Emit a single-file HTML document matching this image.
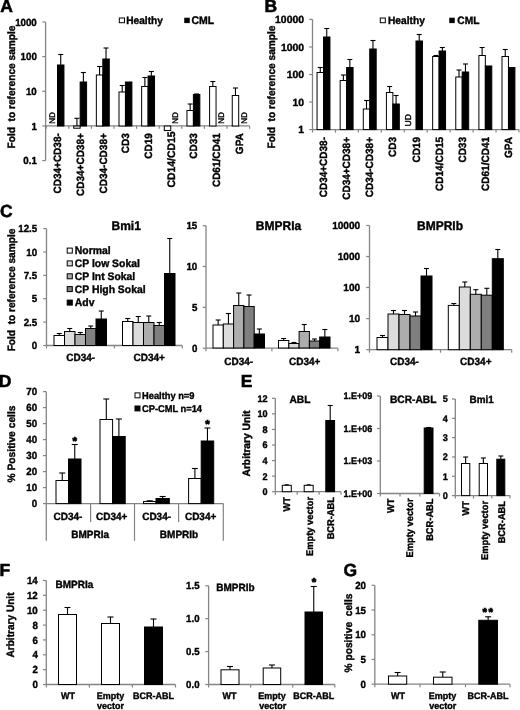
<!DOCTYPE html>
<html><head><meta charset="utf-8"><title>Figure</title>
<style>
html,body{margin:0;padding:0;background:#fff;}
svg{display:block;font-family:"Liberation Sans",sans-serif;fill:#000;text-rendering:geometricPrecision;}
</style></head><body>
<svg width="520" height="710" viewBox="0 0 520 710">
<rect x="0" y="0" width="520" height="710" fill="#fff" stroke="none"/>
<text x="0.30" y="12.30" font-size="17.5" text-anchor="start" font-weight="bold" stroke="#000" stroke-width="0.38" style="stroke-width:0.55">A</text>
<line x1="45.60" y1="22.00" x2="45.60" y2="160.60" stroke="#848484" stroke-width="1.3"/>
<line x1="42.30" y1="22.00" x2="45.60" y2="22.00" stroke="#848484" stroke-width="1.2"/>
<text x="0" y="0" font-size="10.3" text-anchor="end" font-weight="bold" stroke="#000" stroke-width="0.38" transform="translate(36.80 25.61) scale(0.945 1)">1000</text>
<line x1="42.30" y1="56.60" x2="45.60" y2="56.60" stroke="#848484" stroke-width="1.2"/>
<text x="0" y="0" font-size="10.3" text-anchor="end" font-weight="bold" stroke="#000" stroke-width="0.38" transform="translate(36.80 60.20) scale(0.945 1)">100</text>
<line x1="42.30" y1="91.30" x2="45.60" y2="91.30" stroke="#848484" stroke-width="1.2"/>
<text x="0" y="0" font-size="10.3" text-anchor="end" font-weight="bold" stroke="#000" stroke-width="0.38" transform="translate(36.80 94.91) scale(0.945 1)">10</text>
<line x1="42.30" y1="126.00" x2="45.60" y2="126.00" stroke="#848484" stroke-width="1.2"/>
<text x="0" y="0" font-size="10.3" text-anchor="end" font-weight="bold" stroke="#000" stroke-width="0.38" transform="translate(36.80 129.60) scale(0.945 1)">1</text>
<line x1="42.30" y1="160.60" x2="45.60" y2="160.60" stroke="#848484" stroke-width="1.2"/>
<text x="0" y="0" font-size="10.3" text-anchor="end" font-weight="bold" stroke="#000" stroke-width="0.38" transform="translate(36.80 164.20) scale(0.945 1)">0.1</text>
<line x1="45.60" y1="125.80" x2="249.60" y2="125.80" stroke="#848484" stroke-width="1.3"/>
<line x1="46.20" y1="125.80" x2="46.20" y2="128.80" stroke="#848484" stroke-width="1.2"/>
<line x1="68.80" y1="125.80" x2="68.80" y2="128.80" stroke="#848484" stroke-width="1.2"/>
<line x1="91.40" y1="125.80" x2="91.40" y2="128.80" stroke="#848484" stroke-width="1.2"/>
<line x1="114.00" y1="125.80" x2="114.00" y2="128.80" stroke="#848484" stroke-width="1.2"/>
<line x1="136.60" y1="125.80" x2="136.60" y2="128.80" stroke="#848484" stroke-width="1.2"/>
<line x1="159.20" y1="125.80" x2="159.20" y2="128.80" stroke="#848484" stroke-width="1.2"/>
<line x1="181.80" y1="125.80" x2="181.80" y2="128.80" stroke="#848484" stroke-width="1.2"/>
<line x1="204.40" y1="125.80" x2="204.40" y2="128.80" stroke="#848484" stroke-width="1.2"/>
<line x1="227.00" y1="125.80" x2="227.00" y2="128.80" stroke="#848484" stroke-width="1.2"/>
<line x1="249.60" y1="125.80" x2="249.60" y2="128.80" stroke="#848484" stroke-width="1.2"/>
<text x="14.70" y="87.00" font-size="10.7" text-anchor="middle" font-weight="bold" stroke="#000" stroke-width="0.38" textLength="123" lengthAdjust="spacingAndGlyphs" transform="rotate(-90 14.70 87.00)">Fold&#160;&#160;to reference sample</text>
<text x="54.60" y="123.80" font-size="8.2" text-anchor="start" font-weight="normal" transform="rotate(-90 54.60 123.80)" stroke="#000" stroke-width="0.4">ND</text>
<line x1="60.73" y1="54.50" x2="60.73" y2="65.00" stroke="#000" stroke-width="1.1"/>
<line x1="58.23" y1="54.50" x2="63.23" y2="54.50" stroke="#000" stroke-width="1.1"/>
<rect x="57.50" y="65.00" width="6.45" height="61.00" fill="#000" stroke="#000" stroke-width="1.0"/>
<text x="0" y="0" font-size="10.5" text-anchor="end" font-weight="bold" stroke="#000" stroke-width="0.38" transform="translate(61.30 133.20) rotate(-90) scale(0.952 1)">CD34+CD38-</text>
<line x1="76.93" y1="118.30" x2="76.93" y2="126.00" stroke="#000" stroke-width="1.1"/>
<line x1="74.43" y1="118.30" x2="79.43" y2="118.30" stroke="#000" stroke-width="1.1"/>
<rect x="73.70" y="126.00" width="6.45" height="2.20" fill="#fff" stroke="#000" stroke-width="1.0"/>
<line x1="83.38" y1="72.50" x2="83.38" y2="82.00" stroke="#000" stroke-width="1.1"/>
<line x1="80.88" y1="72.50" x2="85.88" y2="72.50" stroke="#000" stroke-width="1.1"/>
<rect x="80.15" y="82.00" width="6.45" height="44.00" fill="#000" stroke="#000" stroke-width="1.0"/>
<text x="0" y="0" font-size="10.5" text-anchor="end" font-weight="bold" stroke="#000" stroke-width="0.38" transform="translate(83.95 133.20) rotate(-90) scale(0.952 1)">CD34+CD38+</text>
<line x1="99.57" y1="66.50" x2="99.57" y2="75.00" stroke="#000" stroke-width="1.1"/>
<line x1="97.07" y1="66.50" x2="102.07" y2="66.50" stroke="#000" stroke-width="1.1"/>
<rect x="96.35" y="75.00" width="6.45" height="51.00" fill="#fff" stroke="#000" stroke-width="1.0"/>
<line x1="106.03" y1="48.00" x2="106.03" y2="59.00" stroke="#000" stroke-width="1.1"/>
<line x1="103.53" y1="48.00" x2="108.53" y2="48.00" stroke="#000" stroke-width="1.1"/>
<rect x="102.80" y="59.00" width="6.45" height="67.00" fill="#000" stroke="#000" stroke-width="1.0"/>
<text x="0" y="0" font-size="10.5" text-anchor="end" font-weight="bold" stroke="#000" stroke-width="0.38" transform="translate(106.60 133.20) rotate(-90) scale(0.952 1)">CD34-CD38+</text>
<line x1="122.22" y1="85.50" x2="122.22" y2="92.00" stroke="#000" stroke-width="1.1"/>
<line x1="119.72" y1="85.50" x2="124.72" y2="85.50" stroke="#000" stroke-width="1.1"/>
<rect x="119.00" y="92.00" width="6.45" height="34.00" fill="#fff" stroke="#000" stroke-width="1.0"/>
<rect x="125.45" y="82.00" width="6.45" height="44.00" fill="#000" stroke="#000" stroke-width="1.0"/>
<text x="0" y="0" font-size="10.5" text-anchor="end" font-weight="bold" stroke="#000" stroke-width="0.38" transform="translate(129.25 133.20) rotate(-90) scale(0.952 1)">CD3</text>
<line x1="144.88" y1="77.50" x2="144.88" y2="86.50" stroke="#000" stroke-width="1.1"/>
<line x1="142.38" y1="77.50" x2="147.38" y2="77.50" stroke="#000" stroke-width="1.1"/>
<rect x="141.65" y="86.50" width="6.45" height="39.50" fill="#fff" stroke="#000" stroke-width="1.0"/>
<line x1="151.32" y1="71.50" x2="151.32" y2="76.00" stroke="#000" stroke-width="1.1"/>
<line x1="148.82" y1="71.50" x2="153.82" y2="71.50" stroke="#000" stroke-width="1.1"/>
<rect x="148.10" y="76.00" width="6.45" height="50.00" fill="#000" stroke="#000" stroke-width="1.0"/>
<text x="0" y="0" font-size="10.5" text-anchor="end" font-weight="bold" stroke="#000" stroke-width="0.38" transform="translate(151.90 133.20) rotate(-90) scale(0.952 1)">CD19</text>
<rect x="164.30" y="126.00" width="6.45" height="4.50" fill="#fff" stroke="#000" stroke-width="1.0"/>
<text x="177.95" y="123.80" font-size="8.2" text-anchor="start" font-weight="normal" transform="rotate(-90 177.95 123.80)" stroke="#000" stroke-width="0.4">ND</text>
<text x="0" y="0" font-size="10.92" text-anchor="end" font-weight="bold" stroke="#000" stroke-width="0.38" transform="translate(174.55 131.50) rotate(-90) scale(0.952 1)">CD14/CD15</text>
<line x1="190.17" y1="104.00" x2="190.17" y2="110.50" stroke="#000" stroke-width="1.1"/>
<line x1="187.67" y1="104.00" x2="192.67" y2="104.00" stroke="#000" stroke-width="1.1"/>
<rect x="186.95" y="110.50" width="6.45" height="15.50" fill="#fff" stroke="#000" stroke-width="1.0"/>
<line x1="196.62" y1="94.00" x2="196.62" y2="94.50" stroke="#000" stroke-width="1.1"/>
<line x1="194.12" y1="94.00" x2="199.12" y2="94.00" stroke="#000" stroke-width="1.1"/>
<rect x="193.40" y="94.50" width="6.45" height="31.50" fill="#000" stroke="#000" stroke-width="1.0"/>
<text x="0" y="0" font-size="10.5" text-anchor="end" font-weight="bold" stroke="#000" stroke-width="0.38" transform="translate(197.20 133.20) rotate(-90) scale(0.952 1)">CD33</text>
<line x1="212.82" y1="81.50" x2="212.82" y2="86.50" stroke="#000" stroke-width="1.1"/>
<line x1="210.32" y1="81.50" x2="215.32" y2="81.50" stroke="#000" stroke-width="1.1"/>
<rect x="209.60" y="86.50" width="6.45" height="39.50" fill="#fff" stroke="#000" stroke-width="1.0"/>
<text x="224.45" y="123.80" font-size="8.2" text-anchor="start" font-weight="normal" transform="rotate(-90 224.45 123.80)" stroke="#000" stroke-width="0.4">ND</text>
<text x="0" y="0" font-size="10.5" text-anchor="end" font-weight="bold" stroke="#000" stroke-width="0.38" transform="translate(219.85 133.20) rotate(-90) scale(0.952 1)">CD61/CD41</text>
<line x1="235.47" y1="88.00" x2="235.47" y2="95.50" stroke="#000" stroke-width="1.1"/>
<line x1="232.97" y1="88.00" x2="237.97" y2="88.00" stroke="#000" stroke-width="1.1"/>
<rect x="232.25" y="95.50" width="6.45" height="30.50" fill="#fff" stroke="#000" stroke-width="1.0"/>
<text x="247.10" y="123.80" font-size="8.2" text-anchor="start" font-weight="normal" transform="rotate(-90 247.10 123.80)" stroke="#000" stroke-width="0.4">ND</text>
<text x="0" y="0" font-size="10.5" text-anchor="end" font-weight="bold" stroke="#000" stroke-width="0.38" transform="translate(242.50 133.20) rotate(-90) scale(0.952 1)">GPA</text>
<rect x="119.30" y="18.00" width="5.20" height="4.70" fill="#fff" stroke="#000" stroke-width="1.0"/>
<text x="0" y="0" font-size="10.61" text-anchor="start" font-weight="bold" stroke="#000" stroke-width="0.38" transform="translate(126.30 24.00) scale(0.952 1)">Healthy</text>
<rect x="184.80" y="18.20" width="4.40" height="4.40" fill="#000" stroke="#000" stroke-width="1.0"/>
<text x="0" y="0" font-size="11.03" text-anchor="start" font-weight="bold" stroke="#000" stroke-width="0.38" transform="translate(191.50 24.00) scale(0.952 1)">CML</text>
<text x="264.50" y="12.30" font-size="17.5" text-anchor="start" font-weight="bold" stroke="#000" stroke-width="0.38" style="stroke-width:0.55">B</text>
<line x1="312.50" y1="19.40" x2="312.50" y2="129.60" stroke="#848484" stroke-width="1.3"/>
<line x1="309.20" y1="19.40" x2="312.50" y2="19.40" stroke="#848484" stroke-width="1.2"/>
<text x="0" y="0" font-size="10.4" text-anchor="end" font-weight="bold" stroke="#000" stroke-width="0.38" transform="translate(304.00 23.04) scale(1 1)">10000</text>
<line x1="309.20" y1="46.95" x2="312.50" y2="46.95" stroke="#848484" stroke-width="1.2"/>
<text x="0" y="0" font-size="10.4" text-anchor="end" font-weight="bold" stroke="#000" stroke-width="0.38" transform="translate(304.00 50.59) scale(1 1)">1000</text>
<line x1="309.20" y1="74.50" x2="312.50" y2="74.50" stroke="#848484" stroke-width="1.2"/>
<text x="0" y="0" font-size="10.4" text-anchor="end" font-weight="bold" stroke="#000" stroke-width="0.38" transform="translate(304.00 78.14) scale(1 1)">100</text>
<line x1="309.20" y1="102.05" x2="312.50" y2="102.05" stroke="#848484" stroke-width="1.2"/>
<text x="0" y="0" font-size="10.4" text-anchor="end" font-weight="bold" stroke="#000" stroke-width="0.38" transform="translate(304.00 105.69) scale(1 1)">10</text>
<line x1="309.20" y1="129.60" x2="312.50" y2="129.60" stroke="#848484" stroke-width="1.2"/>
<text x="0" y="0" font-size="10.4" text-anchor="end" font-weight="bold" stroke="#000" stroke-width="0.38" transform="translate(304.00 133.24) scale(1 1)">1</text>
<line x1="312.50" y1="129.60" x2="519.00" y2="129.60" stroke="#848484" stroke-width="1.3"/>
<line x1="312.50" y1="129.60" x2="312.50" y2="132.60" stroke="#848484" stroke-width="1.2"/>
<line x1="335.44" y1="129.60" x2="335.44" y2="132.60" stroke="#848484" stroke-width="1.2"/>
<line x1="358.38" y1="129.60" x2="358.38" y2="132.60" stroke="#848484" stroke-width="1.2"/>
<line x1="381.32" y1="129.60" x2="381.32" y2="132.60" stroke="#848484" stroke-width="1.2"/>
<line x1="404.26" y1="129.60" x2="404.26" y2="132.60" stroke="#848484" stroke-width="1.2"/>
<line x1="427.20" y1="129.60" x2="427.20" y2="132.60" stroke="#848484" stroke-width="1.2"/>
<line x1="450.14" y1="129.60" x2="450.14" y2="132.60" stroke="#848484" stroke-width="1.2"/>
<line x1="473.08" y1="129.60" x2="473.08" y2="132.60" stroke="#848484" stroke-width="1.2"/>
<line x1="496.02" y1="129.60" x2="496.02" y2="132.60" stroke="#848484" stroke-width="1.2"/>
<line x1="518.96" y1="129.60" x2="518.96" y2="132.60" stroke="#848484" stroke-width="1.2"/>
<text x="275.00" y="87.00" font-size="10.7" text-anchor="middle" font-weight="bold" stroke="#000" stroke-width="0.38" textLength="123" lengthAdjust="spacingAndGlyphs" transform="rotate(-90 275.00 87.00)">Fold&#160;&#160;to reference sample</text>
<line x1="320.27" y1="67.50" x2="320.27" y2="72.50" stroke="#000" stroke-width="1.1"/>
<line x1="317.77" y1="67.50" x2="322.77" y2="67.50" stroke="#000" stroke-width="1.1"/>
<rect x="317.05" y="72.50" width="6.45" height="57.10" fill="#fff" stroke="#000" stroke-width="1.0"/>
<line x1="326.73" y1="28.50" x2="326.73" y2="37.00" stroke="#000" stroke-width="1.1"/>
<line x1="324.23" y1="28.50" x2="329.23" y2="28.50" stroke="#000" stroke-width="1.1"/>
<rect x="323.50" y="37.00" width="6.45" height="92.60" fill="#000" stroke="#000" stroke-width="1.0"/>
<text x="0" y="0" font-size="10.5" text-anchor="end" font-weight="bold" stroke="#000" stroke-width="0.38" transform="translate(327.10 137.00) rotate(-90) scale(0.952 1)">CD34+CD38-</text>
<line x1="343.39" y1="75.00" x2="343.39" y2="80.50" stroke="#000" stroke-width="1.1"/>
<line x1="340.89" y1="75.00" x2="345.89" y2="75.00" stroke="#000" stroke-width="1.1"/>
<rect x="340.17" y="80.50" width="6.45" height="49.10" fill="#fff" stroke="#000" stroke-width="1.0"/>
<line x1="349.85" y1="59.50" x2="349.85" y2="67.50" stroke="#000" stroke-width="1.1"/>
<line x1="347.35" y1="59.50" x2="352.35" y2="59.50" stroke="#000" stroke-width="1.1"/>
<rect x="346.62" y="67.50" width="6.45" height="62.10" fill="#000" stroke="#000" stroke-width="1.0"/>
<text x="0" y="0" font-size="10.5" text-anchor="end" font-weight="bold" stroke="#000" stroke-width="0.38" transform="translate(350.22 137.00) rotate(-90) scale(0.952 1)">CD34+CD38+</text>
<line x1="366.51" y1="100.50" x2="366.51" y2="109.00" stroke="#000" stroke-width="1.1"/>
<line x1="364.01" y1="100.50" x2="369.01" y2="100.50" stroke="#000" stroke-width="1.1"/>
<rect x="363.29" y="109.00" width="6.45" height="20.60" fill="#fff" stroke="#000" stroke-width="1.0"/>
<line x1="372.97" y1="40.50" x2="372.97" y2="49.00" stroke="#000" stroke-width="1.1"/>
<line x1="370.47" y1="40.50" x2="375.47" y2="40.50" stroke="#000" stroke-width="1.1"/>
<rect x="369.74" y="49.00" width="6.45" height="80.60" fill="#000" stroke="#000" stroke-width="1.0"/>
<text x="0" y="0" font-size="10.5" text-anchor="end" font-weight="bold" stroke="#000" stroke-width="0.38" transform="translate(373.34 137.00) rotate(-90) scale(0.952 1)">CD34-CD38+</text>
<line x1="389.63" y1="86.50" x2="389.63" y2="92.50" stroke="#000" stroke-width="1.1"/>
<line x1="387.13" y1="86.50" x2="392.13" y2="86.50" stroke="#000" stroke-width="1.1"/>
<rect x="386.41" y="92.50" width="6.45" height="37.10" fill="#fff" stroke="#000" stroke-width="1.0"/>
<line x1="396.09" y1="95.50" x2="396.09" y2="104.00" stroke="#000" stroke-width="1.1"/>
<line x1="393.59" y1="95.50" x2="398.59" y2="95.50" stroke="#000" stroke-width="1.1"/>
<rect x="392.86" y="104.00" width="6.45" height="25.60" fill="#000" stroke="#000" stroke-width="1.0"/>
<text x="0" y="0" font-size="10.5" text-anchor="end" font-weight="bold" stroke="#000" stroke-width="0.38" transform="translate(396.46 137.00) rotate(-90) scale(0.952 1)">CD3</text>
<text x="410.98" y="126.50" font-size="8.6" text-anchor="start" font-weight="normal" transform="rotate(-90 410.98 126.50)" stroke="#000" stroke-width="0.4">UD</text>
<line x1="419.21" y1="34.50" x2="419.21" y2="41.00" stroke="#000" stroke-width="1.1"/>
<line x1="416.71" y1="34.50" x2="421.71" y2="34.50" stroke="#000" stroke-width="1.1"/>
<rect x="415.98" y="41.00" width="6.45" height="88.60" fill="#000" stroke="#000" stroke-width="1.0"/>
<text x="0" y="0" font-size="10.5" text-anchor="end" font-weight="bold" stroke="#000" stroke-width="0.38" transform="translate(419.58 137.00) rotate(-90) scale(0.952 1)">CD19</text>
<line x1="435.88" y1="55.50" x2="435.88" y2="56.50" stroke="#000" stroke-width="1.1"/>
<line x1="433.38" y1="55.50" x2="438.38" y2="55.50" stroke="#000" stroke-width="1.1"/>
<rect x="432.65" y="56.50" width="6.45" height="73.10" fill="#fff" stroke="#000" stroke-width="1.0"/>
<line x1="442.33" y1="47.50" x2="442.33" y2="51.00" stroke="#000" stroke-width="1.1"/>
<line x1="439.83" y1="47.50" x2="444.83" y2="47.50" stroke="#000" stroke-width="1.1"/>
<rect x="439.10" y="51.00" width="6.45" height="78.60" fill="#000" stroke="#000" stroke-width="1.0"/>
<text x="0" y="0" font-size="10.5" text-anchor="end" font-weight="bold" stroke="#000" stroke-width="0.38" transform="translate(442.70 137.00) rotate(-90) scale(0.952 1)">CD14/CD15</text>
<line x1="459.00" y1="70.00" x2="459.00" y2="77.00" stroke="#000" stroke-width="1.1"/>
<line x1="456.50" y1="70.00" x2="461.50" y2="70.00" stroke="#000" stroke-width="1.1"/>
<rect x="455.77" y="77.00" width="6.45" height="52.60" fill="#fff" stroke="#000" stroke-width="1.0"/>
<line x1="465.45" y1="64.00" x2="465.45" y2="72.00" stroke="#000" stroke-width="1.1"/>
<line x1="462.95" y1="64.00" x2="467.95" y2="64.00" stroke="#000" stroke-width="1.1"/>
<rect x="462.22" y="72.00" width="6.45" height="57.60" fill="#000" stroke="#000" stroke-width="1.0"/>
<text x="0" y="0" font-size="10.5" text-anchor="end" font-weight="bold" stroke="#000" stroke-width="0.38" transform="translate(465.82 137.00) rotate(-90) scale(0.952 1)">CD33</text>
<line x1="482.12" y1="47.50" x2="482.12" y2="55.50" stroke="#000" stroke-width="1.1"/>
<line x1="479.62" y1="47.50" x2="484.62" y2="47.50" stroke="#000" stroke-width="1.1"/>
<rect x="478.89" y="55.50" width="6.45" height="74.10" fill="#fff" stroke="#000" stroke-width="1.0"/>
<rect x="485.34" y="66.00" width="6.45" height="63.60" fill="#000" stroke="#000" stroke-width="1.0"/>
<text x="0" y="0" font-size="10.5" text-anchor="end" font-weight="bold" stroke="#000" stroke-width="0.38" transform="translate(488.94 137.00) rotate(-90) scale(0.952 1)">CD61/CD41</text>
<line x1="505.24" y1="49.50" x2="505.24" y2="56.50" stroke="#000" stroke-width="1.1"/>
<line x1="502.74" y1="49.50" x2="507.74" y2="49.50" stroke="#000" stroke-width="1.1"/>
<rect x="502.01" y="56.50" width="6.45" height="73.10" fill="#fff" stroke="#000" stroke-width="1.0"/>
<rect x="508.46" y="67.50" width="6.45" height="62.10" fill="#000" stroke="#000" stroke-width="1.0"/>
<text x="0" y="0" font-size="10.5" text-anchor="end" font-weight="bold" stroke="#000" stroke-width="0.38" transform="translate(512.06 137.00) rotate(-90) scale(0.952 1)">GPA</text>
<rect x="380.30" y="18.00" width="5.00" height="4.70" fill="#fff" stroke="#000" stroke-width="1.0"/>
<text x="0" y="0" font-size="10.71" text-anchor="start" font-weight="bold" stroke="#000" stroke-width="0.38" transform="translate(388.00 24.00) scale(0.952 1)">Healthy</text>
<rect x="449.80" y="18.20" width="4.40" height="4.40" fill="#000" stroke="#000" stroke-width="1.0"/>
<text x="0" y="0" font-size="10.71" text-anchor="start" font-weight="bold" stroke="#000" stroke-width="0.38" transform="translate(457.30 24.00) scale(0.952 1)">CML</text>
<text x="0.00" y="217.00" font-size="17.5" text-anchor="start" font-weight="bold" stroke="#000" stroke-width="0.38" style="stroke-width:0.55">C</text>
<line x1="46.50" y1="228.60" x2="46.50" y2="345.50" stroke="#848484" stroke-width="1.3"/>
<line x1="43.20" y1="228.60" x2="46.50" y2="228.60" stroke="#848484" stroke-width="1.2"/>
<text x="0" y="0" font-size="10.3" text-anchor="end" font-weight="bold" stroke="#000" stroke-width="0.38" transform="translate(37.20 232.20) scale(0.945 1)">12.5</text>
<line x1="43.20" y1="252.00" x2="46.50" y2="252.00" stroke="#848484" stroke-width="1.2"/>
<text x="0" y="0" font-size="10.3" text-anchor="end" font-weight="bold" stroke="#000" stroke-width="0.38" transform="translate(37.20 255.60) scale(0.945 1)">10</text>
<line x1="43.20" y1="275.40" x2="46.50" y2="275.40" stroke="#848484" stroke-width="1.2"/>
<text x="0" y="0" font-size="10.3" text-anchor="end" font-weight="bold" stroke="#000" stroke-width="0.38" transform="translate(37.20 279.00) scale(0.945 1)">7.5</text>
<line x1="43.20" y1="298.70" x2="46.50" y2="298.70" stroke="#848484" stroke-width="1.2"/>
<text x="0" y="0" font-size="10.3" text-anchor="end" font-weight="bold" stroke="#000" stroke-width="0.38" transform="translate(37.20 302.31) scale(0.945 1)">5</text>
<line x1="43.20" y1="322.10" x2="46.50" y2="322.10" stroke="#848484" stroke-width="1.2"/>
<text x="0" y="0" font-size="10.3" text-anchor="end" font-weight="bold" stroke="#000" stroke-width="0.38" transform="translate(37.20 325.71) scale(0.945 1)">2.5</text>
<line x1="43.20" y1="345.50" x2="46.50" y2="345.50" stroke="#848484" stroke-width="1.2"/>
<text x="0" y="0" font-size="10.3" text-anchor="end" font-weight="bold" stroke="#000" stroke-width="0.38" transform="translate(37.20 349.11) scale(0.945 1)">0</text>
<line x1="46.50" y1="345.50" x2="182.30" y2="345.50" stroke="#848484" stroke-width="1.3"/>
<line x1="46.50" y1="345.50" x2="46.50" y2="348.50" stroke="#848484" stroke-width="1.2"/>
<line x1="114.40" y1="345.50" x2="114.40" y2="348.50" stroke="#848484" stroke-width="1.2"/>
<line x1="182.30" y1="345.50" x2="182.30" y2="348.50" stroke="#848484" stroke-width="1.2"/>
<text x="14.70" y="290.00" font-size="10.7" text-anchor="middle" font-weight="bold" stroke="#000" stroke-width="0.38" textLength="122.7" lengthAdjust="spacingAndGlyphs" transform="rotate(-90 14.70 290.00)">Fold&#160;&#160;to reference sample</text>
<text x="0" y="0" font-size="12.6" text-anchor="start" font-weight="bold" stroke="#000" stroke-width="0.38" transform="translate(111.50 230.30) scale(0.952 1)">Bmi1</text>
<line x1="59.25" y1="333.50" x2="59.25" y2="335.50" stroke="#000" stroke-width="1.1"/>
<line x1="56.75" y1="333.50" x2="61.75" y2="333.50" stroke="#000" stroke-width="1.1"/>
<rect x="54.00" y="335.50" width="10.50" height="10.00" fill="#fff" stroke="#000" stroke-width="1.0"/>
<line x1="69.75" y1="328.50" x2="69.75" y2="331.50" stroke="#000" stroke-width="1.1"/>
<line x1="67.25" y1="328.50" x2="72.25" y2="328.50" stroke="#000" stroke-width="1.1"/>
<rect x="64.50" y="331.50" width="10.50" height="14.00" fill="#dcdcdc" stroke="#000" stroke-width="1.0"/>
<line x1="80.25" y1="332.50" x2="80.25" y2="334.50" stroke="#000" stroke-width="1.1"/>
<line x1="77.75" y1="332.50" x2="82.75" y2="332.50" stroke="#000" stroke-width="1.1"/>
<rect x="75.00" y="334.50" width="10.50" height="11.00" fill="#adadad" stroke="#000" stroke-width="1.0"/>
<line x1="90.75" y1="326.00" x2="90.75" y2="328.50" stroke="#000" stroke-width="1.1"/>
<line x1="88.25" y1="326.00" x2="93.25" y2="326.00" stroke="#000" stroke-width="1.1"/>
<rect x="85.50" y="328.50" width="10.50" height="17.00" fill="#7f7f7f" stroke="#000" stroke-width="1.0"/>
<line x1="101.25" y1="311.00" x2="101.25" y2="319.00" stroke="#000" stroke-width="1.1"/>
<line x1="98.75" y1="311.00" x2="103.75" y2="311.00" stroke="#000" stroke-width="1.1"/>
<rect x="96.00" y="319.00" width="10.50" height="26.50" fill="#000" stroke="#000" stroke-width="1.0"/>
<line x1="127.75" y1="318.50" x2="127.75" y2="321.50" stroke="#000" stroke-width="1.1"/>
<line x1="125.25" y1="318.50" x2="130.25" y2="318.50" stroke="#000" stroke-width="1.1"/>
<rect x="122.50" y="321.50" width="10.50" height="24.00" fill="#fff" stroke="#000" stroke-width="1.0"/>
<line x1="138.25" y1="316.50" x2="138.25" y2="322.50" stroke="#000" stroke-width="1.1"/>
<line x1="135.75" y1="316.50" x2="140.75" y2="316.50" stroke="#000" stroke-width="1.1"/>
<rect x="133.00" y="322.50" width="10.50" height="23.00" fill="#dcdcdc" stroke="#000" stroke-width="1.0"/>
<line x1="148.75" y1="316.00" x2="148.75" y2="322.50" stroke="#000" stroke-width="1.1"/>
<line x1="146.25" y1="316.00" x2="151.25" y2="316.00" stroke="#000" stroke-width="1.1"/>
<rect x="143.50" y="322.50" width="10.50" height="23.00" fill="#adadad" stroke="#000" stroke-width="1.0"/>
<line x1="159.25" y1="322.50" x2="159.25" y2="325.50" stroke="#000" stroke-width="1.1"/>
<line x1="156.75" y1="322.50" x2="161.75" y2="322.50" stroke="#000" stroke-width="1.1"/>
<rect x="154.00" y="325.50" width="10.50" height="20.00" fill="#7f7f7f" stroke="#000" stroke-width="1.0"/>
<line x1="169.75" y1="238.50" x2="169.75" y2="273.50" stroke="#000" stroke-width="1.1"/>
<line x1="167.25" y1="238.50" x2="172.25" y2="238.50" stroke="#000" stroke-width="1.1"/>
<rect x="164.50" y="273.50" width="10.50" height="72.00" fill="#000" stroke="#000" stroke-width="1.0"/>
<text x="0" y="0" font-size="10.5" text-anchor="middle" font-weight="bold" stroke="#000" stroke-width="0.38" transform="translate(80.70 361.00) scale(0.952 1)">CD34-</text>
<text x="0" y="0" font-size="10.5" text-anchor="middle" font-weight="bold" stroke="#000" stroke-width="0.38" transform="translate(149.20 361.00) scale(0.952 1)">CD34+</text>
<rect x="67.20" y="248.10" width="5.10" height="5.00" fill="#fff" stroke="#000" stroke-width="1.0"/>
<text x="0" y="0" font-size="10.92" text-anchor="start" font-weight="bold" stroke="#000" stroke-width="0.38" transform="translate(74.80 254.20) scale(0.952 1)">Normal</text>
<rect x="67.20" y="260.90" width="5.10" height="5.00" fill="#dcdcdc" stroke="#000" stroke-width="1.0"/>
<text x="0" y="0" font-size="10.92" text-anchor="start" font-weight="bold" stroke="#000" stroke-width="0.38" transform="translate(74.80 267.00) scale(0.952 1)">CP low Sokal</text>
<rect x="67.20" y="273.80" width="5.10" height="5.00" fill="#adadad" stroke="#000" stroke-width="1.0"/>
<text x="0" y="0" font-size="10.92" text-anchor="start" font-weight="bold" stroke="#000" stroke-width="0.38" transform="translate(74.80 279.90) scale(0.952 1)">CP Int Sokal</text>
<rect x="67.20" y="286.60" width="5.10" height="5.00" fill="#7f7f7f" stroke="#000" stroke-width="1.0"/>
<text x="0" y="0" font-size="10.92" text-anchor="start" font-weight="bold" stroke="#000" stroke-width="0.38" transform="translate(74.80 292.70) scale(0.952 1)">CP High Sokal</text>
<rect x="67.20" y="300.10" width="5.10" height="5.00" fill="#000" stroke="#000" stroke-width="1.0"/>
<text x="0" y="0" font-size="10.92" text-anchor="start" font-weight="bold" stroke="#000" stroke-width="0.38" transform="translate(74.80 306.20) scale(0.952 1)">Adv</text>
<line x1="206.00" y1="225.70" x2="206.00" y2="348.20" stroke="#848484" stroke-width="1.3"/>
<line x1="202.70" y1="225.70" x2="206.00" y2="225.70" stroke="#848484" stroke-width="1.2"/>
<text x="0" y="0" font-size="10.3" text-anchor="end" font-weight="bold" stroke="#000" stroke-width="0.38" transform="translate(197.30 229.30) scale(0.945 1)">15</text>
<line x1="202.70" y1="266.50" x2="206.00" y2="266.50" stroke="#848484" stroke-width="1.2"/>
<text x="0" y="0" font-size="10.3" text-anchor="end" font-weight="bold" stroke="#000" stroke-width="0.38" transform="translate(197.30 270.11) scale(0.945 1)">10</text>
<line x1="202.70" y1="307.40" x2="206.00" y2="307.40" stroke="#848484" stroke-width="1.2"/>
<text x="0" y="0" font-size="10.3" text-anchor="end" font-weight="bold" stroke="#000" stroke-width="0.38" transform="translate(197.30 311.00) scale(0.945 1)">5</text>
<line x1="202.70" y1="348.20" x2="206.00" y2="348.20" stroke="#848484" stroke-width="1.2"/>
<text x="0" y="0" font-size="10.3" text-anchor="end" font-weight="bold" stroke="#000" stroke-width="0.38" transform="translate(197.30 351.81) scale(0.945 1)">0</text>
<line x1="206.00" y1="348.20" x2="337.90" y2="348.20" stroke="#848484" stroke-width="1.3"/>
<line x1="206.00" y1="348.20" x2="206.00" y2="351.20" stroke="#848484" stroke-width="1.2"/>
<line x1="271.90" y1="348.20" x2="271.90" y2="351.20" stroke="#848484" stroke-width="1.2"/>
<line x1="337.90" y1="348.20" x2="337.90" y2="351.20" stroke="#848484" stroke-width="1.2"/>
<text x="0" y="0" font-size="12.6" text-anchor="middle" font-weight="bold" stroke="#000" stroke-width="0.38" transform="translate(278.50 230.30) scale(0.952 1)">BMPRIa</text>
<line x1="218.15" y1="320.00" x2="218.15" y2="325.00" stroke="#000" stroke-width="1.1"/>
<line x1="215.65" y1="320.00" x2="220.65" y2="320.00" stroke="#000" stroke-width="1.1"/>
<rect x="213.00" y="325.00" width="10.30" height="23.00" fill="#fff" stroke="#000" stroke-width="1.0"/>
<line x1="228.45" y1="313.50" x2="228.45" y2="324.00" stroke="#000" stroke-width="1.1"/>
<line x1="225.95" y1="313.50" x2="230.95" y2="313.50" stroke="#000" stroke-width="1.1"/>
<rect x="223.30" y="324.00" width="10.30" height="24.00" fill="#dcdcdc" stroke="#000" stroke-width="1.0"/>
<line x1="238.75" y1="293.00" x2="238.75" y2="305.50" stroke="#000" stroke-width="1.1"/>
<line x1="236.25" y1="293.00" x2="241.25" y2="293.00" stroke="#000" stroke-width="1.1"/>
<rect x="233.60" y="305.50" width="10.30" height="42.50" fill="#adadad" stroke="#000" stroke-width="1.0"/>
<line x1="249.05" y1="295.00" x2="249.05" y2="306.50" stroke="#000" stroke-width="1.1"/>
<line x1="246.55" y1="295.00" x2="251.55" y2="295.00" stroke="#000" stroke-width="1.1"/>
<rect x="243.90" y="306.50" width="10.30" height="41.50" fill="#7f7f7f" stroke="#000" stroke-width="1.0"/>
<line x1="259.35" y1="329.00" x2="259.35" y2="334.00" stroke="#000" stroke-width="1.1"/>
<line x1="256.85" y1="329.00" x2="261.85" y2="329.00" stroke="#000" stroke-width="1.1"/>
<rect x="254.20" y="334.00" width="10.30" height="14.00" fill="#000" stroke="#000" stroke-width="1.0"/>
<line x1="283.65" y1="338.50" x2="283.65" y2="340.50" stroke="#000" stroke-width="1.1"/>
<line x1="281.15" y1="338.50" x2="286.15" y2="338.50" stroke="#000" stroke-width="1.1"/>
<rect x="278.50" y="340.50" width="10.30" height="7.50" fill="#fff" stroke="#000" stroke-width="1.0"/>
<line x1="293.95" y1="342.50" x2="293.95" y2="343.50" stroke="#000" stroke-width="1.1"/>
<line x1="291.45" y1="342.50" x2="296.45" y2="342.50" stroke="#000" stroke-width="1.1"/>
<rect x="288.80" y="343.50" width="10.30" height="4.50" fill="#dcdcdc" stroke="#000" stroke-width="1.0"/>
<line x1="304.25" y1="324.50" x2="304.25" y2="331.50" stroke="#000" stroke-width="1.1"/>
<line x1="301.75" y1="324.50" x2="306.75" y2="324.50" stroke="#000" stroke-width="1.1"/>
<rect x="299.10" y="331.50" width="10.30" height="16.50" fill="#adadad" stroke="#000" stroke-width="1.0"/>
<line x1="314.55" y1="339.00" x2="314.55" y2="341.00" stroke="#000" stroke-width="1.1"/>
<line x1="312.05" y1="339.00" x2="317.05" y2="339.00" stroke="#000" stroke-width="1.1"/>
<rect x="309.40" y="341.00" width="10.30" height="7.00" fill="#7f7f7f" stroke="#000" stroke-width="1.0"/>
<line x1="324.85" y1="329.50" x2="324.85" y2="337.00" stroke="#000" stroke-width="1.1"/>
<line x1="322.35" y1="329.50" x2="327.35" y2="329.50" stroke="#000" stroke-width="1.1"/>
<rect x="319.70" y="337.00" width="10.30" height="11.00" fill="#000" stroke="#000" stroke-width="1.0"/>
<text x="0" y="0" font-size="10.5" text-anchor="middle" font-weight="bold" stroke="#000" stroke-width="0.38" transform="translate(238.70 364.70) scale(0.952 1)">CD34-</text>
<text x="0" y="0" font-size="10.5" text-anchor="middle" font-weight="bold" stroke="#000" stroke-width="0.38" transform="translate(304.70 364.70) scale(0.952 1)">CD34+</text>
<line x1="369.50" y1="225.50" x2="369.50" y2="349.70" stroke="#848484" stroke-width="1.3"/>
<line x1="366.20" y1="225.50" x2="369.50" y2="225.50" stroke="#848484" stroke-width="1.2"/>
<text x="0" y="0" font-size="10.3" text-anchor="end" font-weight="bold" stroke="#000" stroke-width="0.38" transform="translate(360.20 229.10) scale(0.98 1)">10000</text>
<line x1="366.20" y1="256.50" x2="369.50" y2="256.50" stroke="#848484" stroke-width="1.2"/>
<text x="0" y="0" font-size="10.3" text-anchor="end" font-weight="bold" stroke="#000" stroke-width="0.38" transform="translate(360.20 260.11) scale(0.98 1)">1000</text>
<line x1="366.20" y1="287.50" x2="369.50" y2="287.50" stroke="#848484" stroke-width="1.2"/>
<text x="0" y="0" font-size="10.3" text-anchor="end" font-weight="bold" stroke="#000" stroke-width="0.38" transform="translate(360.20 291.11) scale(0.98 1)">100</text>
<line x1="366.20" y1="318.60" x2="369.50" y2="318.60" stroke="#848484" stroke-width="1.2"/>
<text x="0" y="0" font-size="10.3" text-anchor="end" font-weight="bold" stroke="#000" stroke-width="0.38" transform="translate(360.20 322.21) scale(0.98 1)">10</text>
<line x1="366.20" y1="349.70" x2="369.50" y2="349.70" stroke="#848484" stroke-width="1.2"/>
<text x="0" y="0" font-size="10.3" text-anchor="end" font-weight="bold" stroke="#000" stroke-width="0.38" transform="translate(360.20 353.31) scale(0.98 1)">1</text>
<line x1="369.50" y1="349.70" x2="511.70" y2="349.70" stroke="#848484" stroke-width="1.3"/>
<line x1="369.50" y1="349.70" x2="369.50" y2="352.70" stroke="#848484" stroke-width="1.2"/>
<line x1="440.50" y1="349.70" x2="440.50" y2="352.70" stroke="#848484" stroke-width="1.2"/>
<line x1="511.70" y1="349.70" x2="511.70" y2="352.70" stroke="#848484" stroke-width="1.2"/>
<text x="0" y="0" font-size="12.6" text-anchor="middle" font-weight="bold" stroke="#000" stroke-width="0.38" transform="translate(440.00 230.30) scale(0.952 1)">BMPRIb</text>
<line x1="382.50" y1="335.50" x2="382.50" y2="337.50" stroke="#000" stroke-width="1.1"/>
<line x1="380.00" y1="335.50" x2="385.00" y2="335.50" stroke="#000" stroke-width="1.1"/>
<rect x="377.00" y="337.50" width="11.00" height="12.20" fill="#fff" stroke="#000" stroke-width="1.0"/>
<line x1="393.50" y1="310.50" x2="393.50" y2="314.00" stroke="#000" stroke-width="1.1"/>
<line x1="391.00" y1="310.50" x2="396.00" y2="310.50" stroke="#000" stroke-width="1.1"/>
<rect x="388.00" y="314.00" width="11.00" height="35.70" fill="#dcdcdc" stroke="#000" stroke-width="1.0"/>
<line x1="404.50" y1="310.50" x2="404.50" y2="314.50" stroke="#000" stroke-width="1.1"/>
<line x1="402.00" y1="310.50" x2="407.00" y2="310.50" stroke="#000" stroke-width="1.1"/>
<rect x="399.00" y="314.50" width="11.00" height="35.20" fill="#adadad" stroke="#000" stroke-width="1.0"/>
<line x1="415.50" y1="312.00" x2="415.50" y2="316.00" stroke="#000" stroke-width="1.1"/>
<line x1="413.00" y1="312.00" x2="418.00" y2="312.00" stroke="#000" stroke-width="1.1"/>
<rect x="410.00" y="316.00" width="11.00" height="33.70" fill="#7f7f7f" stroke="#000" stroke-width="1.0"/>
<line x1="426.50" y1="268.50" x2="426.50" y2="276.00" stroke="#000" stroke-width="1.1"/>
<line x1="424.00" y1="268.50" x2="429.00" y2="268.50" stroke="#000" stroke-width="1.1"/>
<rect x="421.00" y="276.00" width="11.00" height="73.70" fill="#000" stroke="#000" stroke-width="1.0"/>
<line x1="453.80" y1="303.50" x2="453.80" y2="305.40" stroke="#000" stroke-width="1.1"/>
<line x1="451.30" y1="303.50" x2="456.30" y2="303.50" stroke="#000" stroke-width="1.1"/>
<rect x="448.30" y="305.40" width="11.00" height="44.30" fill="#fff" stroke="#000" stroke-width="1.0"/>
<line x1="464.80" y1="282.00" x2="464.80" y2="287.00" stroke="#000" stroke-width="1.1"/>
<line x1="462.30" y1="282.00" x2="467.30" y2="282.00" stroke="#000" stroke-width="1.1"/>
<rect x="459.30" y="287.00" width="11.00" height="62.70" fill="#dcdcdc" stroke="#000" stroke-width="1.0"/>
<line x1="475.80" y1="289.70" x2="475.80" y2="294.30" stroke="#000" stroke-width="1.1"/>
<line x1="473.30" y1="289.70" x2="478.30" y2="289.70" stroke="#000" stroke-width="1.1"/>
<rect x="470.30" y="294.30" width="11.00" height="55.40" fill="#adadad" stroke="#000" stroke-width="1.0"/>
<line x1="486.80" y1="288.30" x2="486.80" y2="295.20" stroke="#000" stroke-width="1.1"/>
<line x1="484.30" y1="288.30" x2="489.30" y2="288.30" stroke="#000" stroke-width="1.1"/>
<rect x="481.30" y="295.20" width="11.00" height="54.50" fill="#7f7f7f" stroke="#000" stroke-width="1.0"/>
<line x1="497.80" y1="249.50" x2="497.80" y2="258.70" stroke="#000" stroke-width="1.1"/>
<line x1="495.30" y1="249.50" x2="500.30" y2="249.50" stroke="#000" stroke-width="1.1"/>
<rect x="492.30" y="258.70" width="11.00" height="91.00" fill="#000" stroke="#000" stroke-width="1.0"/>
<text x="0" y="0" font-size="10.5" text-anchor="middle" font-weight="bold" stroke="#000" stroke-width="0.38" transform="translate(404.50 365.00) scale(0.952 1)">CD34-</text>
<text x="0" y="0" font-size="10.5" text-anchor="middle" font-weight="bold" stroke="#000" stroke-width="0.38" transform="translate(475.80 365.00) scale(0.952 1)">CD34+</text>
<text x="-1.30" y="387.00" font-size="17.5" text-anchor="start" font-weight="bold" stroke="#000" stroke-width="0.38" style="stroke-width:0.55">D</text>
<line x1="46.30" y1="391.60" x2="46.30" y2="540.80" stroke="#848484" stroke-width="1.3"/>
<line x1="43.00" y1="391.60" x2="46.30" y2="391.60" stroke="#848484" stroke-width="1.2"/>
<text x="0" y="0" font-size="10.3" text-anchor="end" font-weight="bold" stroke="#000" stroke-width="0.38" transform="translate(37.20 395.21) scale(0.945 1)">70</text>
<line x1="43.00" y1="407.60" x2="46.30" y2="407.60" stroke="#848484" stroke-width="1.2"/>
<text x="0" y="0" font-size="10.3" text-anchor="end" font-weight="bold" stroke="#000" stroke-width="0.38" transform="translate(37.20 411.21) scale(0.945 1)">60</text>
<line x1="43.00" y1="423.60" x2="46.30" y2="423.60" stroke="#848484" stroke-width="1.2"/>
<text x="0" y="0" font-size="10.3" text-anchor="end" font-weight="bold" stroke="#000" stroke-width="0.38" transform="translate(37.20 427.21) scale(0.945 1)">50</text>
<line x1="43.00" y1="439.60" x2="46.30" y2="439.60" stroke="#848484" stroke-width="1.2"/>
<text x="0" y="0" font-size="10.3" text-anchor="end" font-weight="bold" stroke="#000" stroke-width="0.38" transform="translate(37.20 443.21) scale(0.945 1)">40</text>
<line x1="43.00" y1="455.60" x2="46.30" y2="455.60" stroke="#848484" stroke-width="1.2"/>
<text x="0" y="0" font-size="10.3" text-anchor="end" font-weight="bold" stroke="#000" stroke-width="0.38" transform="translate(37.20 459.21) scale(0.945 1)">30</text>
<line x1="43.00" y1="471.60" x2="46.30" y2="471.60" stroke="#848484" stroke-width="1.2"/>
<text x="0" y="0" font-size="10.3" text-anchor="end" font-weight="bold" stroke="#000" stroke-width="0.38" transform="translate(37.20 475.21) scale(0.945 1)">20</text>
<line x1="43.00" y1="487.60" x2="46.30" y2="487.60" stroke="#848484" stroke-width="1.2"/>
<text x="0" y="0" font-size="10.3" text-anchor="end" font-weight="bold" stroke="#000" stroke-width="0.38" transform="translate(37.20 491.21) scale(0.945 1)">10</text>
<line x1="43.00" y1="503.60" x2="46.30" y2="503.60" stroke="#848484" stroke-width="1.2"/>
<text x="0" y="0" font-size="10.3" text-anchor="end" font-weight="bold" stroke="#000" stroke-width="0.38" transform="translate(37.20 507.21) scale(0.945 1)">0</text>
<line x1="46.30" y1="503.60" x2="223.30" y2="503.60" stroke="#848484" stroke-width="1.3"/>
<line x1="90.60" y1="503.60" x2="90.60" y2="522.00" stroke="#848484" stroke-width="1.2"/>
<line x1="134.50" y1="503.60" x2="134.50" y2="540.80" stroke="#848484" stroke-width="1.2"/>
<line x1="178.60" y1="503.60" x2="178.60" y2="522.00" stroke="#848484" stroke-width="1.2"/>
<line x1="223.30" y1="503.60" x2="223.30" y2="540.80" stroke="#848484" stroke-width="1.2"/>
<text x="14.70" y="444.00" font-size="10.7" text-anchor="middle" font-weight="bold" stroke="#000" stroke-width="0.38" textLength="77" lengthAdjust="spacingAndGlyphs" transform="rotate(-90 14.70 444.00)">% Positive cells</text>
<line x1="62.25" y1="473.00" x2="62.25" y2="480.50" stroke="#000" stroke-width="1.1"/>
<line x1="59.25" y1="473.00" x2="65.25" y2="473.00" stroke="#000" stroke-width="1.1"/>
<rect x="56.00" y="480.50" width="12.50" height="23.10" fill="#fff" stroke="#000" stroke-width="1.0"/>
<line x1="74.75" y1="444.50" x2="74.75" y2="459.00" stroke="#000" stroke-width="1.1"/>
<line x1="71.75" y1="444.50" x2="77.75" y2="444.50" stroke="#000" stroke-width="1.1"/>
<rect x="68.50" y="459.00" width="12.50" height="44.60" fill="#000" stroke="#000" stroke-width="1.0"/>
<line x1="106.30" y1="399.00" x2="106.30" y2="419.50" stroke="#000" stroke-width="1.1"/>
<line x1="103.30" y1="399.00" x2="109.30" y2="399.00" stroke="#000" stroke-width="1.1"/>
<rect x="100.00" y="419.50" width="12.60" height="84.10" fill="#fff" stroke="#000" stroke-width="1.0"/>
<line x1="118.90" y1="419.00" x2="118.90" y2="436.50" stroke="#000" stroke-width="1.1"/>
<line x1="115.90" y1="419.00" x2="121.90" y2="419.00" stroke="#000" stroke-width="1.1"/>
<rect x="112.60" y="436.50" width="12.60" height="67.10" fill="#000" stroke="#000" stroke-width="1.0"/>
<line x1="149.75" y1="500.80" x2="149.75" y2="501.50" stroke="#000" stroke-width="1.1"/>
<line x1="146.75" y1="500.80" x2="152.75" y2="500.80" stroke="#000" stroke-width="1.1"/>
<rect x="143.50" y="501.50" width="12.50" height="2.10" fill="#fff" stroke="#000" stroke-width="1.0"/>
<line x1="162.65" y1="496.50" x2="162.65" y2="498.50" stroke="#000" stroke-width="1.1"/>
<line x1="159.65" y1="496.50" x2="165.65" y2="496.50" stroke="#000" stroke-width="1.1"/>
<rect x="156.00" y="498.50" width="13.30" height="5.10" fill="#000" stroke="#000" stroke-width="1.0"/>
<line x1="194.90" y1="468.50" x2="194.90" y2="478.50" stroke="#000" stroke-width="1.1"/>
<line x1="191.90" y1="468.50" x2="197.90" y2="468.50" stroke="#000" stroke-width="1.1"/>
<rect x="188.60" y="478.50" width="12.60" height="25.10" fill="#fff" stroke="#000" stroke-width="1.0"/>
<line x1="207.45" y1="428.00" x2="207.45" y2="441.00" stroke="#000" stroke-width="1.1"/>
<line x1="204.45" y1="428.00" x2="210.45" y2="428.00" stroke="#000" stroke-width="1.1"/>
<rect x="201.20" y="441.00" width="12.50" height="62.60" fill="#000" stroke="#000" stroke-width="1.0"/>
<text x="0" y="0" font-size="11.5" text-anchor="middle" font-weight="bold" stroke="#000" stroke-width="0.38" transform="translate(74.80 445.00) scale(1 1)" style="stroke-width:0.7">*</text>
<text x="0" y="0" font-size="11.5" text-anchor="middle" font-weight="bold" stroke="#000" stroke-width="0.38" transform="translate(207.50 428.00) scale(1 1)" style="stroke-width:0.7">*</text>
<text x="0" y="0" font-size="10.5" text-anchor="middle" font-weight="bold" stroke="#000" stroke-width="0.38" transform="translate(67.90 519.70) scale(0.952 1)">CD34-</text>
<text x="0" y="0" font-size="10.5" text-anchor="middle" font-weight="bold" stroke="#000" stroke-width="0.38" transform="translate(111.70 519.70) scale(0.952 1)">CD34+</text>
<text x="0" y="0" font-size="10.5" text-anchor="middle" font-weight="bold" stroke="#000" stroke-width="0.38" transform="translate(156.60 519.70) scale(0.952 1)">CD34-</text>
<text x="0" y="0" font-size="10.5" text-anchor="middle" font-weight="bold" stroke="#000" stroke-width="0.38" transform="translate(200.60 519.70) scale(0.952 1)">CD34+</text>
<text x="0" y="0" font-size="10.5" text-anchor="middle" font-weight="bold" stroke="#000" stroke-width="0.38" transform="translate(90.10 537.70) scale(0.952 1)">BMPRIa</text>
<text x="0" y="0" font-size="10.5" text-anchor="middle" font-weight="bold" stroke="#000" stroke-width="0.38" transform="translate(179.00 537.70) scale(0.952 1)">BMPRIb</text>
<rect x="135.00" y="392.90" width="5.00" height="4.90" fill="#fff" stroke="#000" stroke-width="1.0"/>
<text x="0" y="0" font-size="9.77" text-anchor="start" font-weight="bold" stroke="#000" stroke-width="0.38" transform="translate(142.00 398.50) scale(0.952 1)">Healthy n=9</text>
<rect x="135.00" y="406.00" width="5.00" height="4.90" fill="#000" stroke="#000" stroke-width="1.0"/>
<text x="0" y="0" font-size="9.77" text-anchor="start" font-weight="bold" stroke="#000" stroke-width="0.38" transform="translate(142.00 411.70) scale(0.952 1)">CP-CML n=14</text>
<text x="240.80" y="387.00" font-size="17.5" text-anchor="start" font-weight="bold" stroke="#000" stroke-width="0.38" style="stroke-width:0.55">E</text>
<line x1="275.30" y1="398.30" x2="275.30" y2="491.70" stroke="#848484" stroke-width="1.3"/>
<line x1="272.00" y1="398.30" x2="275.30" y2="398.30" stroke="#848484" stroke-width="1.2"/>
<text x="0" y="0" font-size="9.6" text-anchor="end" font-weight="bold" stroke="#000" stroke-width="0.38" transform="translate(267.50 401.66) scale(0.945 1)">12</text>
<line x1="272.00" y1="413.87" x2="275.30" y2="413.87" stroke="#848484" stroke-width="1.2"/>
<text x="0" y="0" font-size="9.6" text-anchor="end" font-weight="bold" stroke="#000" stroke-width="0.38" transform="translate(267.50 417.23) scale(0.945 1)">10</text>
<line x1="272.00" y1="429.44" x2="275.30" y2="429.44" stroke="#848484" stroke-width="1.2"/>
<text x="0" y="0" font-size="9.6" text-anchor="end" font-weight="bold" stroke="#000" stroke-width="0.38" transform="translate(267.50 432.80) scale(0.945 1)">8</text>
<line x1="272.00" y1="445.01" x2="275.30" y2="445.01" stroke="#848484" stroke-width="1.2"/>
<text x="0" y="0" font-size="9.6" text-anchor="end" font-weight="bold" stroke="#000" stroke-width="0.38" transform="translate(267.50 448.37) scale(0.945 1)">6</text>
<line x1="272.00" y1="460.58" x2="275.30" y2="460.58" stroke="#848484" stroke-width="1.2"/>
<text x="0" y="0" font-size="9.6" text-anchor="end" font-weight="bold" stroke="#000" stroke-width="0.38" transform="translate(267.50 463.94) scale(0.945 1)">4</text>
<line x1="272.00" y1="476.15" x2="275.30" y2="476.15" stroke="#848484" stroke-width="1.2"/>
<text x="0" y="0" font-size="9.6" text-anchor="end" font-weight="bold" stroke="#000" stroke-width="0.38" transform="translate(267.50 479.51) scale(0.945 1)">2</text>
<line x1="272.00" y1="491.72" x2="275.30" y2="491.72" stroke="#848484" stroke-width="1.2"/>
<text x="0" y="0" font-size="9.6" text-anchor="end" font-weight="bold" stroke="#000" stroke-width="0.38" transform="translate(267.50 495.08) scale(0.945 1)">0</text>
<line x1="275.30" y1="491.70" x2="341.00" y2="491.70" stroke="#848484" stroke-width="1.3"/>
<line x1="275.30" y1="491.70" x2="275.30" y2="494.70" stroke="#848484" stroke-width="1.2"/>
<line x1="297.20" y1="491.70" x2="297.20" y2="494.70" stroke="#848484" stroke-width="1.2"/>
<line x1="319.10" y1="491.70" x2="319.10" y2="494.70" stroke="#848484" stroke-width="1.2"/>
<line x1="341.00" y1="491.70" x2="341.00" y2="494.70" stroke="#848484" stroke-width="1.2"/>
<text x="249.60" y="443.50" font-size="10.7" text-anchor="middle" font-weight="bold" stroke="#000" stroke-width="0.38" textLength="66" lengthAdjust="spacingAndGlyphs" transform="rotate(-90 249.60 443.50)">Arbitrary Unit</text>
<text x="0" y="0" font-size="10.71" text-anchor="start" font-weight="bold" stroke="#000" stroke-width="0.38" transform="translate(289.50 402.70) scale(0.952 1)">ABL</text>
<line x1="286.80" y1="484.80" x2="286.80" y2="485.30" stroke="#000" stroke-width="1.1"/>
<line x1="284.80" y1="484.80" x2="288.80" y2="484.80" stroke="#000" stroke-width="1.1"/>
<rect x="282.30" y="485.30" width="9.00" height="6.40" fill="#fff" stroke="#000" stroke-width="1.0"/>
<line x1="308.70" y1="484.80" x2="308.70" y2="485.30" stroke="#000" stroke-width="1.1"/>
<line x1="306.70" y1="484.80" x2="310.70" y2="484.80" stroke="#000" stroke-width="1.1"/>
<rect x="304.20" y="485.30" width="9.00" height="6.40" fill="#fff" stroke="#000" stroke-width="1.0"/>
<line x1="330.20" y1="405.50" x2="330.20" y2="420.50" stroke="#000" stroke-width="1.1"/>
<line x1="327.70" y1="405.50" x2="332.70" y2="405.50" stroke="#000" stroke-width="1.1"/>
<rect x="325.80" y="420.50" width="8.80" height="71.20" fill="#000" stroke="#000" stroke-width="1.0"/>
<text x="0" y="0" font-size="9.77" text-anchor="end" font-weight="bold" stroke="#000" stroke-width="0.38" transform="translate(290.30 497.00) rotate(-90) scale(0.952 1)">WT</text>
<text x="0" y="0" font-size="9.77" text-anchor="end" font-weight="bold" stroke="#000" stroke-width="0.38" transform="translate(312.80 497.00) rotate(-90) scale(0.952 1)">Empty vector</text>
<text x="0" y="0" font-size="9.77" text-anchor="end" font-weight="bold" stroke="#000" stroke-width="0.38" transform="translate(333.50 497.00) rotate(-90) scale(0.952 1)">BCR-ABL</text>
<line x1="380.30" y1="396.00" x2="380.30" y2="493.50" stroke="#848484" stroke-width="1.3"/>
<line x1="377.00" y1="396.00" x2="380.30" y2="396.00" stroke="#848484" stroke-width="1.2"/>
<text x="0" y="0" font-size="9.5" text-anchor="end" font-weight="bold" stroke="#000" stroke-width="0.38" transform="translate(372.30 399.32) scale(0.945 1)">1.E+09</text>
<line x1="377.00" y1="428.50" x2="380.30" y2="428.50" stroke="#848484" stroke-width="1.2"/>
<text x="0" y="0" font-size="9.5" text-anchor="end" font-weight="bold" stroke="#000" stroke-width="0.38" transform="translate(372.30 431.82) scale(0.945 1)">1.E+06</text>
<line x1="377.00" y1="461.00" x2="380.30" y2="461.00" stroke="#848484" stroke-width="1.2"/>
<text x="0" y="0" font-size="9.5" text-anchor="end" font-weight="bold" stroke="#000" stroke-width="0.38" transform="translate(372.30 464.32) scale(0.945 1)">1.E+03</text>
<line x1="377.00" y1="493.50" x2="380.30" y2="493.50" stroke="#848484" stroke-width="1.2"/>
<text x="0" y="0" font-size="9.5" text-anchor="end" font-weight="bold" stroke="#000" stroke-width="0.38" transform="translate(372.30 496.82) scale(0.945 1)">1.E+00</text>
<line x1="380.30" y1="493.50" x2="439.50" y2="493.50" stroke="#848484" stroke-width="1.3"/>
<line x1="380.30" y1="493.50" x2="380.30" y2="496.50" stroke="#848484" stroke-width="1.2"/>
<line x1="400.00" y1="493.50" x2="400.00" y2="496.50" stroke="#848484" stroke-width="1.2"/>
<line x1="419.80" y1="493.50" x2="419.80" y2="496.50" stroke="#848484" stroke-width="1.2"/>
<line x1="439.50" y1="493.50" x2="439.50" y2="496.50" stroke="#848484" stroke-width="1.2"/>
<text x="0" y="0" font-size="10.71" text-anchor="start" font-weight="bold" stroke="#000" stroke-width="0.38" transform="translate(390.00 402.70) scale(0.952 1)">BCR-ABL</text>
<line x1="428.60" y1="427.50" x2="428.60" y2="428.00" stroke="#000" stroke-width="1.1"/>
<line x1="426.10" y1="427.50" x2="431.10" y2="427.50" stroke="#000" stroke-width="1.1"/>
<rect x="424.20" y="428.00" width="8.80" height="65.50" fill="#000" stroke="#000" stroke-width="1.0"/>
<text x="0" y="0" font-size="9.77" text-anchor="end" font-weight="bold" stroke="#000" stroke-width="0.38" transform="translate(393.80 498.50) rotate(-90) scale(0.952 1)">WT</text>
<text x="0" y="0" font-size="9.77" text-anchor="end" font-weight="bold" stroke="#000" stroke-width="0.38" transform="translate(413.30 498.50) rotate(-90) scale(0.952 1)">Empty vector</text>
<text x="0" y="0" font-size="9.77" text-anchor="end" font-weight="bold" stroke="#000" stroke-width="0.38" transform="translate(432.50 498.50) rotate(-90) scale(0.952 1)">BCR-ABL</text>
<line x1="455.30" y1="399.00" x2="455.30" y2="495.60" stroke="#848484" stroke-width="1.3"/>
<line x1="452.00" y1="399.00" x2="455.30" y2="399.00" stroke="#848484" stroke-width="1.2"/>
<text x="0" y="0" font-size="9.6" text-anchor="end" font-weight="bold" stroke="#000" stroke-width="0.38" transform="translate(447.90 402.36) scale(0.945 1)">5</text>
<line x1="452.00" y1="418.32" x2="455.30" y2="418.32" stroke="#848484" stroke-width="1.2"/>
<text x="0" y="0" font-size="9.6" text-anchor="end" font-weight="bold" stroke="#000" stroke-width="0.38" transform="translate(447.90 421.68) scale(0.945 1)">4</text>
<line x1="452.00" y1="437.64" x2="455.30" y2="437.64" stroke="#848484" stroke-width="1.2"/>
<text x="0" y="0" font-size="9.6" text-anchor="end" font-weight="bold" stroke="#000" stroke-width="0.38" transform="translate(447.90 441.00) scale(0.945 1)">3</text>
<line x1="452.00" y1="456.96" x2="455.30" y2="456.96" stroke="#848484" stroke-width="1.2"/>
<text x="0" y="0" font-size="9.6" text-anchor="end" font-weight="bold" stroke="#000" stroke-width="0.38" transform="translate(447.90 460.32) scale(0.945 1)">2</text>
<line x1="452.00" y1="476.28" x2="455.30" y2="476.28" stroke="#848484" stroke-width="1.2"/>
<text x="0" y="0" font-size="9.6" text-anchor="end" font-weight="bold" stroke="#000" stroke-width="0.38" transform="translate(447.90 479.64) scale(0.945 1)">1</text>
<line x1="452.00" y1="495.60" x2="455.30" y2="495.60" stroke="#848484" stroke-width="1.2"/>
<text x="0" y="0" font-size="9.6" text-anchor="end" font-weight="bold" stroke="#000" stroke-width="0.38" transform="translate(447.90 498.96) scale(0.945 1)">0</text>
<line x1="455.30" y1="495.60" x2="510.00" y2="495.60" stroke="#848484" stroke-width="1.3"/>
<line x1="455.30" y1="495.60" x2="455.30" y2="498.60" stroke="#848484" stroke-width="1.2"/>
<line x1="473.50" y1="495.60" x2="473.50" y2="498.60" stroke="#848484" stroke-width="1.2"/>
<line x1="491.80" y1="495.60" x2="491.80" y2="498.60" stroke="#848484" stroke-width="1.2"/>
<line x1="510.00" y1="495.60" x2="510.00" y2="498.60" stroke="#848484" stroke-width="1.2"/>
<text x="0" y="0" font-size="10.4" text-anchor="start" font-weight="bold" stroke="#000" stroke-width="0.38" transform="translate(469.60 402.70) scale(0.952 1)">Bmi1</text>
<line x1="465.65" y1="457.00" x2="465.65" y2="463.50" stroke="#000" stroke-width="1.1"/>
<line x1="463.15" y1="457.00" x2="468.15" y2="457.00" stroke="#000" stroke-width="1.1"/>
<rect x="461.50" y="463.50" width="8.30" height="32.10" fill="#fff" stroke="#000" stroke-width="1.0"/>
<line x1="483.35" y1="458.00" x2="483.35" y2="463.50" stroke="#000" stroke-width="1.1"/>
<line x1="480.85" y1="458.00" x2="485.85" y2="458.00" stroke="#000" stroke-width="1.1"/>
<rect x="479.20" y="463.50" width="8.30" height="32.10" fill="#fff" stroke="#000" stroke-width="1.0"/>
<line x1="500.80" y1="456.00" x2="500.80" y2="459.20" stroke="#000" stroke-width="1.1"/>
<line x1="498.30" y1="456.00" x2="503.30" y2="456.00" stroke="#000" stroke-width="1.1"/>
<rect x="496.80" y="459.20" width="8.00" height="36.40" fill="#000" stroke="#000" stroke-width="1.0"/>
<text x="0" y="0" font-size="9.77" text-anchor="end" font-weight="bold" stroke="#000" stroke-width="0.38" transform="translate(469.00 501.00) rotate(-90) scale(0.952 1)">WT</text>
<text x="0" y="0" font-size="9.77" text-anchor="end" font-weight="bold" stroke="#000" stroke-width="0.38" transform="translate(487.50 501.00) rotate(-90) scale(0.952 1)">Empty vector</text>
<text x="0" y="0" font-size="9.77" text-anchor="end" font-weight="bold" stroke="#000" stroke-width="0.38" transform="translate(505.00 501.00) rotate(-90) scale(0.952 1)">BCR-ABL</text>
<text x="-0.40" y="576.20" font-size="17.5" text-anchor="start" font-weight="bold" stroke="#000" stroke-width="0.38" style="stroke-width:0.55">F</text>
<line x1="46.30" y1="580.50" x2="46.30" y2="684.50" stroke="#848484" stroke-width="1.3"/>
<line x1="43.00" y1="580.50" x2="46.30" y2="580.50" stroke="#848484" stroke-width="1.2"/>
<text x="0" y="0" font-size="10.3" text-anchor="end" font-weight="bold" stroke="#000" stroke-width="0.38" transform="translate(37.80 584.11) scale(0.945 1)">14</text>
<line x1="43.00" y1="595.36" x2="46.30" y2="595.36" stroke="#848484" stroke-width="1.2"/>
<text x="0" y="0" font-size="10.3" text-anchor="end" font-weight="bold" stroke="#000" stroke-width="0.38" transform="translate(37.80 598.97) scale(0.945 1)">12</text>
<line x1="43.00" y1="610.22" x2="46.30" y2="610.22" stroke="#848484" stroke-width="1.2"/>
<text x="0" y="0" font-size="10.3" text-anchor="end" font-weight="bold" stroke="#000" stroke-width="0.38" transform="translate(37.80 613.83) scale(0.945 1)">10</text>
<line x1="43.00" y1="625.08" x2="46.30" y2="625.08" stroke="#848484" stroke-width="1.2"/>
<text x="0" y="0" font-size="10.3" text-anchor="end" font-weight="bold" stroke="#000" stroke-width="0.38" transform="translate(37.80 628.69) scale(0.945 1)">8</text>
<line x1="43.00" y1="639.94" x2="46.30" y2="639.94" stroke="#848484" stroke-width="1.2"/>
<text x="0" y="0" font-size="10.3" text-anchor="end" font-weight="bold" stroke="#000" stroke-width="0.38" transform="translate(37.80 643.55) scale(0.945 1)">6</text>
<line x1="43.00" y1="654.80" x2="46.30" y2="654.80" stroke="#848484" stroke-width="1.2"/>
<text x="0" y="0" font-size="10.3" text-anchor="end" font-weight="bold" stroke="#000" stroke-width="0.38" transform="translate(37.80 658.40) scale(0.945 1)">4</text>
<line x1="43.00" y1="669.66" x2="46.30" y2="669.66" stroke="#848484" stroke-width="1.2"/>
<text x="0" y="0" font-size="10.3" text-anchor="end" font-weight="bold" stroke="#000" stroke-width="0.38" transform="translate(37.80 673.26) scale(0.945 1)">2</text>
<line x1="43.00" y1="684.52" x2="46.30" y2="684.52" stroke="#848484" stroke-width="1.2"/>
<text x="0" y="0" font-size="10.3" text-anchor="end" font-weight="bold" stroke="#000" stroke-width="0.38" transform="translate(37.80 688.12) scale(0.945 1)">0</text>
<line x1="46.30" y1="684.50" x2="175.50" y2="684.50" stroke="#848484" stroke-width="1.3"/>
<line x1="46.30" y1="684.50" x2="46.30" y2="687.50" stroke="#848484" stroke-width="1.2"/>
<line x1="89.40" y1="684.50" x2="89.40" y2="687.50" stroke="#848484" stroke-width="1.2"/>
<line x1="132.40" y1="684.50" x2="132.40" y2="687.50" stroke="#848484" stroke-width="1.2"/>
<line x1="175.50" y1="684.50" x2="175.50" y2="687.50" stroke="#848484" stroke-width="1.2"/>
<text x="14.20" y="625.00" font-size="10.7" text-anchor="middle" font-weight="bold" stroke="#000" stroke-width="0.38" textLength="65" lengthAdjust="spacingAndGlyphs" transform="rotate(-90 14.20 625.00)">Arbitrary Unit</text>
<text x="0" y="0" font-size="10.5" text-anchor="start" font-weight="bold" stroke="#000" stroke-width="0.38" transform="translate(55.50 587.70) scale(0.952 1)">BMPRIa</text>
<line x1="67.50" y1="607.50" x2="67.50" y2="614.50" stroke="#000" stroke-width="1.1"/>
<line x1="64.50" y1="607.50" x2="70.50" y2="607.50" stroke="#000" stroke-width="1.1"/>
<rect x="58.50" y="614.50" width="18.00" height="70.00" fill="#fff" stroke="#000" stroke-width="1.0"/>
<line x1="110.50" y1="617.00" x2="110.50" y2="623.50" stroke="#000" stroke-width="1.1"/>
<line x1="107.50" y1="617.00" x2="113.50" y2="617.00" stroke="#000" stroke-width="1.1"/>
<rect x="101.50" y="623.50" width="18.00" height="61.00" fill="#fff" stroke="#000" stroke-width="1.0"/>
<line x1="153.50" y1="619.00" x2="153.50" y2="627.00" stroke="#000" stroke-width="1.1"/>
<line x1="150.50" y1="619.00" x2="156.50" y2="619.00" stroke="#000" stroke-width="1.1"/>
<rect x="144.50" y="627.00" width="18.00" height="57.50" fill="#000" stroke="#000" stroke-width="1.0"/>
<text x="0" y="0" font-size="9.45" text-anchor="middle" font-weight="bold" stroke="#000" stroke-width="0.38" transform="translate(68.00 699.30) scale(0.952 1)">WT</text>
<text x="0" y="0" font-size="9.45" text-anchor="middle" font-weight="bold" stroke="#000" stroke-width="0.38" transform="translate(110.50 699.30) scale(0.952 1)">Empty</text>
<text x="0" y="0" font-size="9.45" text-anchor="middle" font-weight="bold" stroke="#000" stroke-width="0.38" transform="translate(110.50 709.00) scale(0.952 1)">vector</text>
<text x="0" y="0" font-size="9.45" text-anchor="middle" font-weight="bold" stroke="#000" stroke-width="0.38" transform="translate(153.50 699.30) scale(0.952 1)">BCR-ABL</text>
<line x1="208.60" y1="585.80" x2="208.60" y2="684.50" stroke="#848484" stroke-width="1.3"/>
<line x1="205.30" y1="585.80" x2="208.60" y2="585.80" stroke="#848484" stroke-width="1.2"/>
<text x="0" y="0" font-size="10.2" text-anchor="end" font-weight="bold" stroke="#000" stroke-width="0.38" transform="translate(199.50 589.37) scale(0.945 1)">1.5</text>
<line x1="205.30" y1="618.70" x2="208.60" y2="618.70" stroke="#848484" stroke-width="1.2"/>
<text x="0" y="0" font-size="10.2" text-anchor="end" font-weight="bold" stroke="#000" stroke-width="0.38" transform="translate(199.50 622.27) scale(0.945 1)">1.0</text>
<line x1="205.30" y1="651.60" x2="208.60" y2="651.60" stroke="#848484" stroke-width="1.2"/>
<text x="0" y="0" font-size="10.2" text-anchor="end" font-weight="bold" stroke="#000" stroke-width="0.38" transform="translate(199.50 655.17) scale(0.945 1)">0.5</text>
<line x1="205.30" y1="684.50" x2="208.60" y2="684.50" stroke="#848484" stroke-width="1.2"/>
<text x="0" y="0" font-size="10.2" text-anchor="end" font-weight="bold" stroke="#000" stroke-width="0.38" transform="translate(199.50 688.07) scale(0.945 1)">0.0</text>
<line x1="208.60" y1="684.50" x2="334.80" y2="684.50" stroke="#848484" stroke-width="1.3"/>
<line x1="208.60" y1="684.50" x2="208.60" y2="687.50" stroke="#848484" stroke-width="1.2"/>
<line x1="250.60" y1="684.50" x2="250.60" y2="687.50" stroke="#848484" stroke-width="1.2"/>
<line x1="292.70" y1="684.50" x2="292.70" y2="687.50" stroke="#848484" stroke-width="1.2"/>
<line x1="334.80" y1="684.50" x2="334.80" y2="687.50" stroke="#848484" stroke-width="1.2"/>
<text x="0" y="0" font-size="10.5" text-anchor="start" font-weight="bold" stroke="#000" stroke-width="0.38" transform="translate(216.30 591.20) scale(0.952 1)">BMPRIb</text>
<line x1="230.00" y1="666.50" x2="230.00" y2="669.80" stroke="#000" stroke-width="1.1"/>
<line x1="227.00" y1="666.50" x2="233.00" y2="666.50" stroke="#000" stroke-width="1.1"/>
<rect x="221.00" y="669.80" width="18.00" height="14.70" fill="#fff" stroke="#000" stroke-width="1.0"/>
<line x1="271.95" y1="665.00" x2="271.95" y2="668.00" stroke="#000" stroke-width="1.1"/>
<line x1="268.95" y1="665.00" x2="274.95" y2="665.00" stroke="#000" stroke-width="1.1"/>
<rect x="263.20" y="668.00" width="17.50" height="16.50" fill="#fff" stroke="#000" stroke-width="1.0"/>
<line x1="313.75" y1="586.50" x2="313.75" y2="612.00" stroke="#000" stroke-width="1.1"/>
<line x1="310.75" y1="586.50" x2="316.75" y2="586.50" stroke="#000" stroke-width="1.1"/>
<rect x="305.00" y="612.00" width="17.50" height="72.50" fill="#000" stroke="#000" stroke-width="1.0"/>
<text x="0" y="0" font-size="11.5" text-anchor="middle" font-weight="bold" stroke="#000" stroke-width="0.38" transform="translate(314.00 586.00) scale(1 1)" style="stroke-width:0.7">*</text>
<text x="0" y="0" font-size="9.45" text-anchor="middle" font-weight="bold" stroke="#000" stroke-width="0.38" transform="translate(229.60 699.30) scale(0.952 1)">WT</text>
<text x="0" y="0" font-size="9.45" text-anchor="middle" font-weight="bold" stroke="#000" stroke-width="0.38" transform="translate(272.00 699.30) scale(0.952 1)">Empty</text>
<text x="0" y="0" font-size="9.45" text-anchor="middle" font-weight="bold" stroke="#000" stroke-width="0.38" transform="translate(272.70 709.00) scale(0.952 1)">vector</text>
<text x="0" y="0" font-size="9.45" text-anchor="middle" font-weight="bold" stroke="#000" stroke-width="0.38" transform="translate(313.70 699.30) scale(0.952 1)">BCR-ABL</text>
<text x="343.40" y="576.30" font-size="17.5" text-anchor="start" font-weight="bold" stroke="#000" stroke-width="0.38" style="stroke-width:0.55">G</text>
<line x1="374.80" y1="585.30" x2="374.80" y2="684.20" stroke="#848484" stroke-width="1.3"/>
<line x1="371.50" y1="585.30" x2="374.80" y2="585.30" stroke="#848484" stroke-width="1.2"/>
<text x="0" y="0" font-size="10.3" text-anchor="end" font-weight="bold" stroke="#000" stroke-width="0.38" transform="translate(366.00 588.90) scale(0.945 1)">20</text>
<line x1="371.50" y1="610.00" x2="374.80" y2="610.00" stroke="#848484" stroke-width="1.2"/>
<text x="0" y="0" font-size="10.3" text-anchor="end" font-weight="bold" stroke="#000" stroke-width="0.38" transform="translate(366.00 613.61) scale(0.945 1)">15</text>
<line x1="371.50" y1="634.80" x2="374.80" y2="634.80" stroke="#848484" stroke-width="1.2"/>
<text x="0" y="0" font-size="10.3" text-anchor="end" font-weight="bold" stroke="#000" stroke-width="0.38" transform="translate(366.00 638.40) scale(0.945 1)">10</text>
<line x1="371.50" y1="659.50" x2="374.80" y2="659.50" stroke="#848484" stroke-width="1.2"/>
<text x="0" y="0" font-size="10.3" text-anchor="end" font-weight="bold" stroke="#000" stroke-width="0.38" transform="translate(366.00 663.11) scale(0.945 1)">5</text>
<line x1="371.50" y1="684.20" x2="374.80" y2="684.20" stroke="#848484" stroke-width="1.2"/>
<text x="0" y="0" font-size="10.3" text-anchor="end" font-weight="bold" stroke="#000" stroke-width="0.38" transform="translate(366.00 687.81) scale(0.945 1)">0</text>
<line x1="374.80" y1="684.20" x2="510.00" y2="684.20" stroke="#848484" stroke-width="1.3"/>
<line x1="374.80" y1="684.20" x2="374.80" y2="687.20" stroke="#848484" stroke-width="1.2"/>
<line x1="420.00" y1="684.20" x2="420.00" y2="687.20" stroke="#848484" stroke-width="1.2"/>
<line x1="465.50" y1="684.20" x2="465.50" y2="687.20" stroke="#848484" stroke-width="1.2"/>
<line x1="510.00" y1="684.20" x2="510.00" y2="687.20" stroke="#848484" stroke-width="1.2"/>
<text x="352.00" y="633.00" font-size="10.7" text-anchor="middle" font-weight="bold" stroke="#000" stroke-width="0.38" textLength="79" lengthAdjust="spacingAndGlyphs" transform="rotate(-90 352.00 633.00)">% positive&#160;&#160;cells</text>
<line x1="397.60" y1="672.50" x2="397.60" y2="676.00" stroke="#000" stroke-width="1.1"/>
<line x1="394.60" y1="672.50" x2="400.60" y2="672.50" stroke="#000" stroke-width="1.1"/>
<rect x="388.50" y="676.00" width="18.20" height="8.20" fill="#fff" stroke="#000" stroke-width="1.0"/>
<line x1="442.75" y1="672.00" x2="442.75" y2="677.20" stroke="#000" stroke-width="1.1"/>
<line x1="439.75" y1="672.00" x2="445.75" y2="672.00" stroke="#000" stroke-width="1.1"/>
<rect x="433.50" y="677.20" width="18.50" height="7.00" fill="#fff" stroke="#000" stroke-width="1.0"/>
<line x1="488.15" y1="616.80" x2="488.15" y2="620.30" stroke="#000" stroke-width="1.1"/>
<line x1="485.15" y1="616.80" x2="491.15" y2="616.80" stroke="#000" stroke-width="1.1"/>
<rect x="478.80" y="620.30" width="18.70" height="63.90" fill="#000" stroke="#000" stroke-width="1.0"/>
<text x="0" y="0" font-size="11.5" text-anchor="middle" font-weight="bold" stroke="#000" stroke-width="0.38" transform="translate(488.50 616.00) scale(1 1)" style="stroke-width:0.7" letter-spacing="1.6">**</text>
<text x="0" y="0" font-size="9.45" text-anchor="middle" font-weight="bold" stroke="#000" stroke-width="0.38" transform="translate(398.00 699.30) scale(0.952 1)">WT</text>
<text x="0" y="0" font-size="9.45" text-anchor="middle" font-weight="bold" stroke="#000" stroke-width="0.38" transform="translate(442.50 699.30) scale(0.952 1)">Empty</text>
<text x="0" y="0" font-size="9.45" text-anchor="middle" font-weight="bold" stroke="#000" stroke-width="0.38" transform="translate(442.70 709.00) scale(0.952 1)">vector</text>
<text x="0" y="0" font-size="9.45" text-anchor="middle" font-weight="bold" stroke="#000" stroke-width="0.38" transform="translate(488.00 699.30) scale(0.952 1)">BCR-ABL</text>
</svg>
</body></html>
